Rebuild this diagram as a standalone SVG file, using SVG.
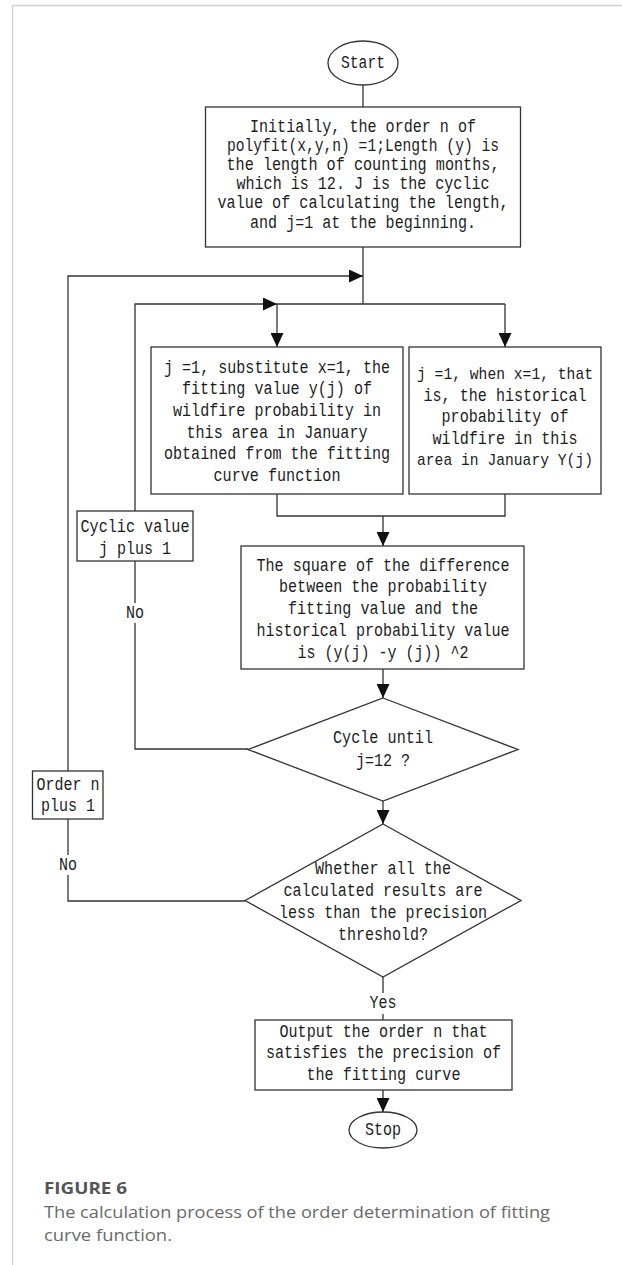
<svg xmlns="http://www.w3.org/2000/svg" width="622" height="1265" viewBox="0 0 622 1265">
<style>
.frame{stroke:#cfcfcf;stroke-width:1.3;fill:none}
.box{fill:#fff;stroke:#333;stroke-width:1.3}
.ln{fill:none;stroke:#333;stroke-width:1.3}
.t{font-family:"Liberation Mono",monospace;font-size:18px;fill:#1c1c1c;text-anchor:middle}
.ts{font-size:17px}
.cap{font-family:"Open Sans","Liberation Sans",sans-serif;font-size:17px;fill:#6a6a6a}
.capb{font-family:"Open Sans","Liberation Sans",sans-serif;font-size:16px;font-weight:bold;fill:#555}
</style>
<defs>
<marker id="arr" viewBox="0 0 14 13" refX="14" refY="6.5" markerWidth="14" markerHeight="13" markerUnits="userSpaceOnUse" orient="auto">
<path d="M0,0 L14,6.5 L0,13 z" fill="#111"/>
</marker>
</defs>
<rect width="622" height="1265" fill="#fff"/>
<path class="frame" d="M12.5,1265 V5.5 H622"/>

<g id="connectors">
<path class="ln" d="M363,85 V107"/>
<path class="ln" d="M363,247 V304"/>
<path class="ln" d="M245,901 H68 V875"/>
<path class="ln" d="M68,855 V819"/>
<path class="ln" d="M68,771 V276 H363" marker-end="url(#arr)"/>
<path class="ln" d="M248,749 H135 V623"/>
<path class="ln" d="M135,603 V561"/>
<path class="ln" d="M135,511 V304 H277" marker-end="url(#arr)"/>
<path class="ln" d="M277,304 H505"/>
<path class="ln" d="M277,304 V347" marker-end="url(#arr)"/>
<path class="ln" d="M505,304 V347" marker-end="url(#arr)"/>
<path class="ln" d="M277,494 V516 H505 V494"/>
<path class="ln" d="M383,516 V546" marker-end="url(#arr)"/>
<path class="ln" d="M383,669 V698" marker-end="url(#arr)"/>
<path class="ln" d="M383,801 V824" marker-end="url(#arr)"/>
<path class="ln" d="M383,977 V993"/>
<path class="ln" d="M383,1014 V1020"/>
<path class="ln" d="M383,1090 V1112" marker-end="url(#arr)"/>
<text class="t" x="135" y="618" textLength="18" lengthAdjust="spacingAndGlyphs">No</text>
<text class="t" x="68" y="870" textLength="18" lengthAdjust="spacingAndGlyphs">No</text>
<text class="t" x="383" y="1008" textLength="27" lengthAdjust="spacingAndGlyphs">Yes</text>
</g>

<g id="start">
<ellipse class="box" cx="363" cy="63" rx="35" ry="22"/>
<text class="t" x="363" y="68" textLength="44" lengthAdjust="spacingAndGlyphs">Start</text>
</g>

<g id="init">
<rect class="box" x="205.5" y="107" width="315" height="140"/>
<text class="t" x="363" y="132" textLength="226" lengthAdjust="spacingAndGlyphs">Initially, the order n of</text>
<text class="t" x="363" y="151" textLength="272" lengthAdjust="spacingAndGlyphs">polyfit(x,y,n) =1;Length (y) is</text>
<text class="t" x="363" y="170" textLength="273" lengthAdjust="spacingAndGlyphs">the length of counting months,</text>
<text class="t" x="363" y="189" textLength="253" lengthAdjust="spacingAndGlyphs">which is 12. J is the cyclic</text>
<text class="t" x="363" y="208" textLength="291" lengthAdjust="spacingAndGlyphs">value of calculating the length,</text>
<text class="t" x="363" y="228" textLength="226" lengthAdjust="spacingAndGlyphs">and j=1 at the beginning.</text>
</g>

<g id="fit">
<rect class="box" x="151" y="347" width="252" height="147"/>
<text class="t" x="277" y="373" textLength="226" lengthAdjust="spacingAndGlyphs">j =1, substitute x=1, the</text>
<text class="t" x="277" y="394" textLength="190" lengthAdjust="spacingAndGlyphs">fitting value y(j) of</text>
<text class="t" x="277" y="416" textLength="208" lengthAdjust="spacingAndGlyphs">wildfire probability in</text>
<text class="t" x="277" y="438" textLength="181" lengthAdjust="spacingAndGlyphs">this area in January</text>
<text class="t" x="277" y="459" textLength="226" lengthAdjust="spacingAndGlyphs">obtained from the fitting</text>
<text class="t" x="277" y="481" textLength="127" lengthAdjust="spacingAndGlyphs">curve function</text>
</g>

<g id="hist">
<rect class="box" x="409" y="347" width="192" height="147"/>
<text class="t ts" x="505" y="379" textLength="176" lengthAdjust="spacingAndGlyphs">j =1, when x=1, that</text>
<text class="t" x="505" y="401" textLength="163" lengthAdjust="spacingAndGlyphs">is, the historical</text>
<text class="t" x="505" y="422" textLength="127" lengthAdjust="spacingAndGlyphs">probability of</text>
<text class="t" x="505" y="444" textLength="145" lengthAdjust="spacingAndGlyphs">wildfire in this</text>
<text class="t ts" x="505" y="465" textLength="176" lengthAdjust="spacingAndGlyphs">area in January Y(j)</text>
</g>

<g id="cyclic">
<rect class="box" x="77" y="511" width="116" height="50"/>
<text class="t" x="135" y="532" textLength="109" lengthAdjust="spacingAndGlyphs">Cyclic value</text>
<text class="t" x="135" y="554" textLength="72" lengthAdjust="spacingAndGlyphs">j plus 1</text>
</g>

<g id="square">
<rect class="box" x="241" y="546" width="283" height="123"/>
<text class="t" x="383" y="571" textLength="253" lengthAdjust="spacingAndGlyphs">The square of the difference</text>
<text class="t" x="383" y="592" textLength="208" lengthAdjust="spacingAndGlyphs">between the probability</text>
<text class="t" x="383" y="614" textLength="190" lengthAdjust="spacingAndGlyphs">fitting value and the</text>
<text class="t" x="383" y="636" textLength="253" lengthAdjust="spacingAndGlyphs">historical probability value</text>
<text class="t" x="383" y="658" textLength="171" lengthAdjust="spacingAndGlyphs">is (y(j) -y (j)) ^2</text>
</g>

<g id="cycle">
<polygon class="box" points="383,698 518,749.5 383,801 248,749.5"/>
<text class="t" x="383" y="743" textLength="100" lengthAdjust="spacingAndGlyphs">Cycle until</text>
<text class="t" x="383" y="766" textLength="54" lengthAdjust="spacingAndGlyphs">j=12 ?</text>
</g>

<g id="order">
<rect class="box" x="32.5" y="771" width="70.5" height="48"/>
<text class="t" x="68" y="790" textLength="63" lengthAdjust="spacingAndGlyphs">Order n</text>
<text class="t" x="68" y="811" textLength="54" lengthAdjust="spacingAndGlyphs">plus 1</text>
</g>

<g id="threshold">
<polygon class="box" points="383,824 521,900.5 383,977 245,900.5"/>
<text class="t" x="383" y="874" textLength="136" lengthAdjust="spacingAndGlyphs">Whether all the</text>
<text class="t" x="383" y="896" textLength="199" lengthAdjust="spacingAndGlyphs">calculated results are</text>
<text class="t" x="383" y="918" textLength="208" lengthAdjust="spacingAndGlyphs">less than the precision</text>
<text class="t" x="383" y="940" textLength="90" lengthAdjust="spacingAndGlyphs">threshold?</text>
</g>

<g id="output">
<rect class="box" x="255" y="1020" width="257" height="70"/>
<text class="t" x="383.5" y="1037" textLength="208" lengthAdjust="spacingAndGlyphs">Output the order n that</text>
<text class="t" x="383.5" y="1058" textLength="235" lengthAdjust="spacingAndGlyphs">satisfies the precision of</text>
<text class="t" x="383.5" y="1080" textLength="154" lengthAdjust="spacingAndGlyphs">the fitting curve</text>
</g>

<g id="stop">
<ellipse class="box" cx="383" cy="1130" rx="34" ry="18"/>
<text class="t" x="383" y="1135" textLength="36" lengthAdjust="spacingAndGlyphs">Stop</text>
</g>

<g id="caption">
<text class="capb" x="44" y="1194" textLength="83" lengthAdjust="spacingAndGlyphs">FIGURE 6</text>
<text class="cap" x="44" y="1218" textLength="506" lengthAdjust="spacingAndGlyphs">The calculation process of the order determination of fitting</text>
<text class="cap" x="44" y="1241" textLength="128" lengthAdjust="spacingAndGlyphs">curve function.</text>
</g>
</svg>
